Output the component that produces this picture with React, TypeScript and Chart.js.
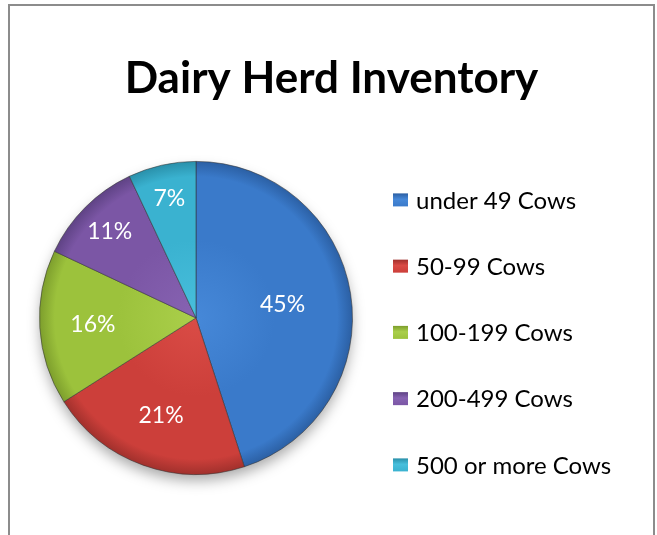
import React, { useEffect, useRef } from "react";
import { Chart, registerables, layouts } from "chart.js";

Chart.register(...registerables);

const titleText = "Dairy Herd Inventory";
const categories = ["under 49 Cows", "50-99 Cows", "100-199 Cows", "200-499 Cows", "500 or more Cows"];
const shares = [45, 21, 16, 11, 7];
const baseColors = ["#3a7aca", "#cc3f3a", "#9cc23c", "#7b56a5", "#3ab2d0"];
const lightColors = ["#4688d8", "#da4c46", "#aacf4a", "#8763b2", "#48bfdc"];
const darkColors = ["#2b5fa3", "#a0302c", "#7c9d2c", "#5e4284", "#298fa9"];

const FONT = "Lato, 'Open Sans', sans-serif";

const pieShadow = {
  id: "pieShadow",
  beforeDatasetsDraw(chart: any) {
    const arc = chart.getDatasetMeta(0).data[0];
    if (!arc) return;
    const { x, y, outerRadius } = arc.getProps(["x", "y", "outerRadius"], true);
    const ctx = chart.ctx;
    ctx.save();
    ctx.beginPath();
    ctx.arc(x, y, outerRadius - 1, 0, Math.PI * 2);
    ctx.shadowColor = "rgba(0,0,0,0.35)";
    ctx.shadowBlur = 14;
    ctx.shadowOffsetY = 7;
    ctx.fillStyle = "#ffffff";
    ctx.fill();
    ctx.restore();
  },
};

const pieLabels = {
  id: "pieLabels",
  afterDatasetsDraw(chart: any) {
    const ctx = chart.ctx;
    const meta = chart.getDatasetMeta(0);
    const values = chart.data.datasets[0].data as number[];
    const total = values.reduce((a, b) => a + b, 0);
    ctx.save();
    ctx.fillStyle = "#ffffff";
    ctx.font = `23px ${FONT}`;
    ctx.textAlign = "center";
    ctx.textBaseline = "middle";
    meta.data.forEach((arc: any, i: number) => {
      const { x, y, startAngle, endAngle, outerRadius } = arc.getProps(
        ["x", "y", "startAngle", "endAngle", "outerRadius"],
        true
      );
      const share = values[i] / total;
      const frac = share >= 0.4 ? 0.56 : share >= 0.15 ? 0.66 : 0.78;
      const mid = (startAngle + endAngle) / 2;
      const lx = x + Math.cos(mid) * outerRadius * frac;
      const ly = y + Math.sin(mid) * outerRadius * frac;
      ctx.fillText(`${Math.round(share * 100)}%`, lx, ly);
    });
    ctx.restore();
  },
};

const sideLegend = {
  id: "sideLegend",
  start(chart: any) {
    const box: any = {
      position: "right",
      weight: 0,
      fullSize: false,
      options: {},
      width: 0,
      height: 0,
      left: 0,
      top: 0,
      right: 0,
      bottom: 0,
      isHorizontal() {
        return false;
      },
      update(maxWidth: number, maxHeight: number) {
        this.width = Math.min(271, maxWidth);
        this.height = maxHeight;
      },
      draw() {},
    };
    layouts.addBox(chart, box);
    chart.$sideLegendBox = box;
  },
  stop(chart: any) {
    if (chart.$sideLegendBox) layouts.removeBox(chart, chart.$sideLegendBox);
  },
  afterDraw(chart: any) {
    const ctx = chart.ctx;
    const area = chart.chartArea;
    const labels = chart.data.labels as string[];
    const rowGap = 66.25;
    const boxX = area.right + 40;
    const centerY = (area.top + area.bottom) / 2 + 14.5;
    const firstY = centerY - ((labels.length - 1) / 2) * rowGap;
    ctx.save();
    ctx.font = `24px ${FONT}`;
    ctx.textBaseline = "middle";
    ctx.textAlign = "left";
    labels.forEach((lab, i) => {
      const cy = firstY + i * rowGap;
      const bw = 15;
      const bh = 13;
      const by = cy - bh / 2;
      const g = ctx.createLinearGradient(0, by, 0, by + bh);
      g.addColorStop(0, darkColors[i]);
      g.addColorStop(0.45, lightColors[i]);
      g.addColorStop(1, baseColors[i]);
      ctx.fillStyle = g;
      ctx.fillRect(boxX, by, bw, bh);
      ctx.fillStyle = "#000000";
      ctx.fillText(lab, boxX + 23, cy + 1);
    });
    ctx.restore();
  },
};

export default function App() {
  const canvasRef = useRef<HTMLCanvasElement | null>(null);

  useEffect(() => {
    if (!canvasRef.current) return;
    const chart = new Chart(canvasRef.current, {
      type: "pie",
      data: {
        labels: categories,
        datasets: [
          {
            data: shares,
            backgroundColor: (c: any) => {
              const chart = c.chart;
              const area = chart.chartArea;
              const i = c.dataIndex;
              if (!area || i === undefined) return baseColors[i ?? 0];
              const cx = (area.left + area.right) / 2;
              const cy = (area.top + area.bottom) / 2;
              const r = Math.min(area.right - area.left, area.bottom - area.top) / 2;
              const g = chart.ctx.createRadialGradient(cx, cy, 0, cx, cy, r);
              g.addColorStop(0, lightColors[i]);
              g.addColorStop(0.5, baseColors[i]);
              g.addColorStop(0.9, baseColors[i]);
              g.addColorStop(1, darkColors[i]);
              return g;
            },
            borderColor: "rgba(50,50,50,0.55)",
            borderWidth: 1,
          },
        ],
      },
      options: {
        responsive: true,
        maintainAspectRatio: false,
        animation: false,
        layout: { padding: { left: 29, right: 29, top: 0, bottom: 60 } },
        plugins: {
          legend: { display: false },
          tooltip: { enabled: false },
          title: {
            display: true,
            text: titleText,
            color: "#000000",
            font: { family: FONT, size: 44, weight: "bold" },
            padding: { top: 46, bottom: 56 },
          },
        },
      },
      plugins: [pieShadow, pieLabels, sideLegend],
    });
    return () => chart.destroy();
  }, []);

  return (
    <div
      style={{
        position: "absolute",
        left: 8,
        top: 4,
        width: 647,
        height: 531,
        border: "2px solid #8c8c8c",
        borderBottom: "none",
        boxSizing: "border-box",
        background: "#ffffff",
      }}
    >
      <div style={{ position: "relative", width: 643, height: 529 }}>
        <canvas ref={canvasRef} />
      </div>
    </div>
  );
}
